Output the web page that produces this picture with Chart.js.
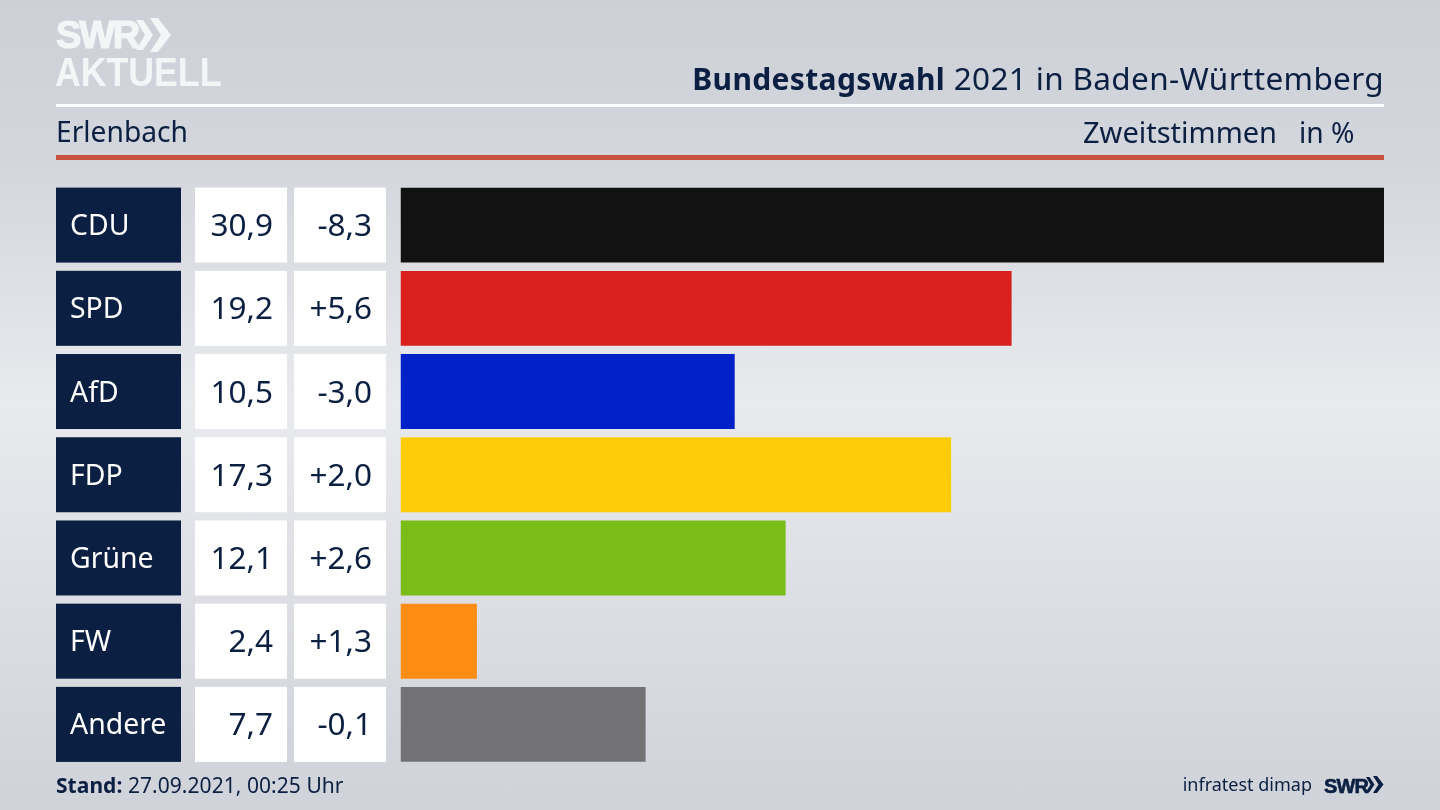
<!DOCTYPE html>
<html lang="de">
<head>
<meta charset="utf-8">
<title>Bundestagswahl 2021 in Baden-Württemberg</title>
<script src="https://cdn.jsdelivr.net/npm/chart.js@4"></script>
<style>
  html, body { margin: 0; padding: 0; }
  body {
    width: 1440px; height: 810px; overflow: hidden; position: relative;
    background: linear-gradient(180deg, #cdd0d7 0%, #d3d6dc 20%, #e9eaee 50%, #dcdee3 75%, #cfd2d9 100%);
    font-family: "Noto Sans", sans-serif; color: #0a1f41;
  }
  canvas { position: absolute; left: 0; top: 0; }
  .txt { position: absolute; white-space: nowrap; line-height: 1; }
  .rule { position: absolute; left: 56px; width: 1328px; }
  .logo { color: #f4f5f7; font-family: "Liberation Sans"; font-weight: bold; transform-origin: left top; }
</style>
</head>
<body>
<canvas id="grafik" width="1440" height="810"></canvas>

<div class="txt logo" style="left:56px;top:16px;font-size:38px;letter-spacing:-2.2px;-webkit-text-stroke:1.2px #f4f5f7">SWR</div>
<svg style="position:absolute;left:136px;top:18px" width="36" height="34" viewBox="0 0 36 34">
  <path d="M0 2 L7 2 L17 17 L7 32 L0 32 L9 17 Z M14 0 L22 0 L35 17 L22 34 L14 34 L25 17 Z" fill="#f4f5f7"/>
</svg>
<div class="txt logo" style="left:55px;top:52px;font-size:41px;transform:scaleX(0.87)">AKTUELL</div>

<div class="txt" style="right:56px;top:62px;font-size:31.5px;letter-spacing:0.35px"><b style="font-size:30px">Bundestagswahl</b> 2021 in Baden-Württemberg</div>
<div class="rule" style="top:104px;height:3px;background:#fff"></div>
<div class="txt" style="left:56px;top:117px;font-size:28.2px">Erlenbach</div>
<div class="txt" style="left:1083px;top:117px;font-size:29px">Zweitstimmen</div>
<div class="txt" style="left:1299px;top:118px;font-size:28.2px">in %</div>
<div class="rule" style="top:155px;height:5px;background:#c8503c"></div>

<div class="txt" style="left:56px;top:775px;font-size:21px;letter-spacing:0.05px"><b>Stand:</b> 27.09.2021, 00:25 Uhr</div>
<div class="txt" style="right:128px;top:775px;font-size:18px">infratest dimap</div>
<div class="txt" style="left:1324px;top:775px;font:bold 20px 'Liberation Sans';letter-spacing:-0.8px;-webkit-text-stroke:0.6px #0a1f41">SWR</div>
<svg style="position:absolute;left:1366px;top:776px" width="18" height="17" viewBox="0 0 36 34">
  <path d="M0 2 L7 2 L17 17 L7 32 L0 32 L9 17 Z M14 0 L22 0 L35 17 L22 34 L14 34 L25 17 Z" fill="#0a1f41"/>
</svg>

<script>
const parteien = ["CDU", "SPD", "AfD", "FDP", "Grüne", "FW", "Andere"];
const stimmen = [30.9, 19.2, 10.5, 17.3, 12.1, 2.4, 7.7];
const differenz = [-8.3, 5.6, -3.0, 2.0, 2.6, 1.3, -0.1];
const farben = ["#121212", "#da1f1f", "#0020c8", "#ffcc0a", "#7abd19", "#ff8c14", "#727274"];

function zahl(v) {
  return v.toLocaleString("de-DE", { minimumFractionDigits: 1, maximumFractionDigits: 1 });
}
function mitVorzeichen(v) {
  return (v > 0 ? "+" : "") + zahl(v);
}

// Tabelle links neben den Balken, Zeilen kommen aus der y-Achse
const tabelle = {
  id: "tabelle",
  afterDatasetsDraw(chart) {
    const ctx = chart.ctx;
    const y = chart.scales.y;
    const h = 75;
    ctx.save();
    ctx.textBaseline = "middle";
    parteien.forEach((p, i) => {
      const mitte = y.getPixelForValue(i);
      const oben = mitte - h / 2;
      ctx.fillStyle = "#0a1f41";
      ctx.fillRect(56, oben, 125, h);
      ctx.fillStyle = "#fff";
      ctx.fillRect(195, oben, 92, h);
      ctx.fillRect(294, oben, 92, h);

      ctx.textAlign = "left";
      ctx.font = '28.4px "Noto Sans"';
      ctx.fillText(p, 70, mitte + 2);
      ctx.font = '31.5px "Noto Sans"';
      ctx.textAlign = "right";
      ctx.fillStyle = "#0a1f41";
      ctx.fillText(zahl(stimmen[i]), 273, mitte + 2);
      ctx.fillText(mitVorzeichen(differenz[i]), 372, mitte + 2);
    });
    ctx.restore();
  }
};

new Chart(document.getElementById("grafik").getContext("2d"), {
  type: "bar",
  data: {
    labels: parteien,
    datasets: [{
      data: stimmen,
      backgroundColor: farben,
      borderWidth: 0,
      barPercentage: 0.9,
      categoryPercentage: 1
    }]
  },
  options: {
    indexAxis: "y",
    responsive: false,
    animation: false,
    devicePixelRatio: 1,
    layout: { padding: { left: 400.5, right: 56, top: 183.5, bottom: 44 } },
    plugins: { legend: { display: false }, tooltip: { enabled: false } },
    scales: {
      x: { display: false, min: 0, max: 30.9 },
      y: { display: false }
    }
  },
  plugins: [tabelle]
});
</script>
</body>
</html>
